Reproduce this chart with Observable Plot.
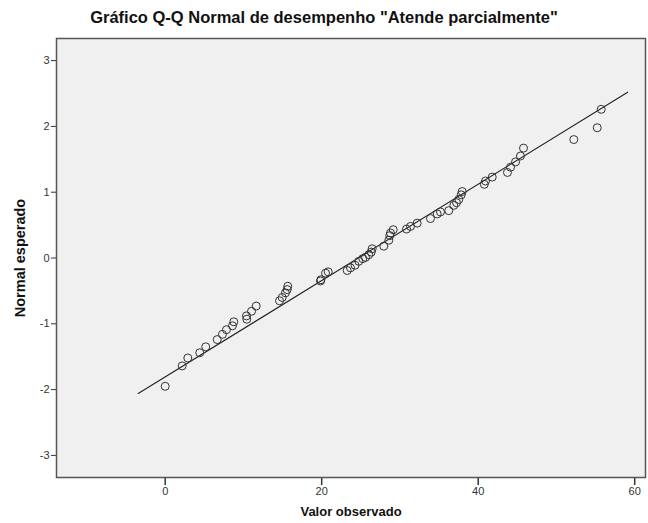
<!DOCTYPE html>
<html>
<head>
<meta charset="utf-8">
<script src="https://cdn.jsdelivr.net/npm/d3@7"></script>
<script src="https://cdn.jsdelivr.net/npm/@observablehq/plot@0.6"></script>
<style>
  html, body { margin: 0; padding: 0; background: #fff; overflow: hidden; }
  #title { height: 30px; width: 648px; position: relative; font-family: "Liberation Sans", Arial, sans-serif; }
  #title span { position: absolute; left: 0; width: 648px; top: 9px; line-height: 17px; text-align: center; font-size: 16.5px; font-weight: bold; color: #111; transform: translateX(0px); }
  #chart svg { display: block; }
</style>
</head>
<body>
<div id="title"><span>Gráfico Q-Q Normal de desempenho "Atende parcialmente"</span></div>
<div id="chart"></div>
<script>
const observed = [0, 2.17, 2.89, 4.42, 5.18, 6.65, 7.32, 7.83, 8.6, 8.77,
  10.43, 10.39, 11.03, 11.63, 14.61, 14.95, 15.37, 15.59, 15.67, 19.85,
  19.9, 20.49, 20.83, 23.26, 23.68, 24.26, 24.74, 25.25, 25.6, 26.02,
  26.33, 26.45, 27.94, 28.58, 28.7, 28.79, 29.14, 30.84, 31.35, 32.2,
  33.9, 34.76, 35.18, 36.24, 36.88, 37.23, 37.52, 37.83, 37.96, 40.78,
  40.93, 41.79, 43.74, 44.13, 44.77, 45.4, 45.79, 52.22, 55.21, 55.72];
const expected = [-1.95, -1.64, -1.52, -1.44, -1.35, -1.24, -1.16, -1.09, -1.03, -0.97,
  -0.93, -0.88, -0.81, -0.73, -0.65, -0.60, -0.53, -0.48, -0.43, -0.35,
  -0.33, -0.23, -0.21, -0.19, -0.15, -0.11, -0.05, -0.01, 0.01, 0.05,
  0.09, 0.14, 0.18, 0.27, 0.34, 0.38, 0.43, 0.44, 0.48, 0.53,
  0.60, 0.67, 0.70, 0.72, 0.80, 0.84, 0.89, 0.96, 1.01, 1.12,
  1.17, 1.23, 1.30, 1.38, 1.46, 1.55, 1.67, 1.80, 1.98, 2.26];

// Reference line endpoints
const refX = [-3.45, 59.1];
const refY = [-2.06, 2.52];

// Axis ticks
const xTicks = [0, 20, 40, 60];
const yTicks = [-3, -2, -1, 0, 1, 2, 3];

const xLabel = "Valor observado";
const yLabel = "Normal esperado";

const points = observed.map((x, i) => ({x, y: expected[i]}));
const ref = refX.map((x, i) => ({x, y: refY[i]}));

const chart = Plot.plot({
  width: 648,
  height: 493,
  marginTop: 8,
  marginBottom: 46,
  marginLeft: 56,
  marginRight: 3,
  x: {domain: [-13.89, 61.38], ticks: xTicks},
  y: {domain: [-3.336, 3.336], ticks: yTicks},
  style: {fontFamily: "'Liberation Sans', Arial, sans-serif", fontSize: "11px", color: "#333", background: "white"},
  marks: [
    Plot.frame({fill: "#f0f0f0", stroke: "none"}),
    Plot.axisX({ticks: xTicks, tickSize: 8, tickPadding: 2, label: null, stroke: "#333", strokeWidth: 1.5, tickFormat: d => String(d)}),
    Plot.axisY({ticks: yTicks, tickSize: 5, tickPadding: 2, label: null, stroke: "#333", tickFormat: d => String(d)}),
    Plot.line(ref, {x: "x", y: "y", stroke: "#222", strokeWidth: 1.1}),
    Plot.dot(points, {x: "x", y: "y", r: 4, stroke: "#333", fill: "none", strokeWidth: 1}),
    Plot.frame({stroke: "#555", strokeWidth: 1.5}),
    Plot.text([xLabel], {text: d => d, frameAnchor: "bottom", textAnchor: "middle", dy: 38, fontWeight: "bold", fontSize: 13, fill: "#111"}),
    Plot.text([yLabel], {text: d => d, frameAnchor: "left", textAnchor: "middle", dx: -36, rotate: -90, fontWeight: "bold", fontSize: 14.5, fill: "#111"})
  ]
});
document.getElementById("chart").appendChild(chart);
</script>
</body>
</html>
